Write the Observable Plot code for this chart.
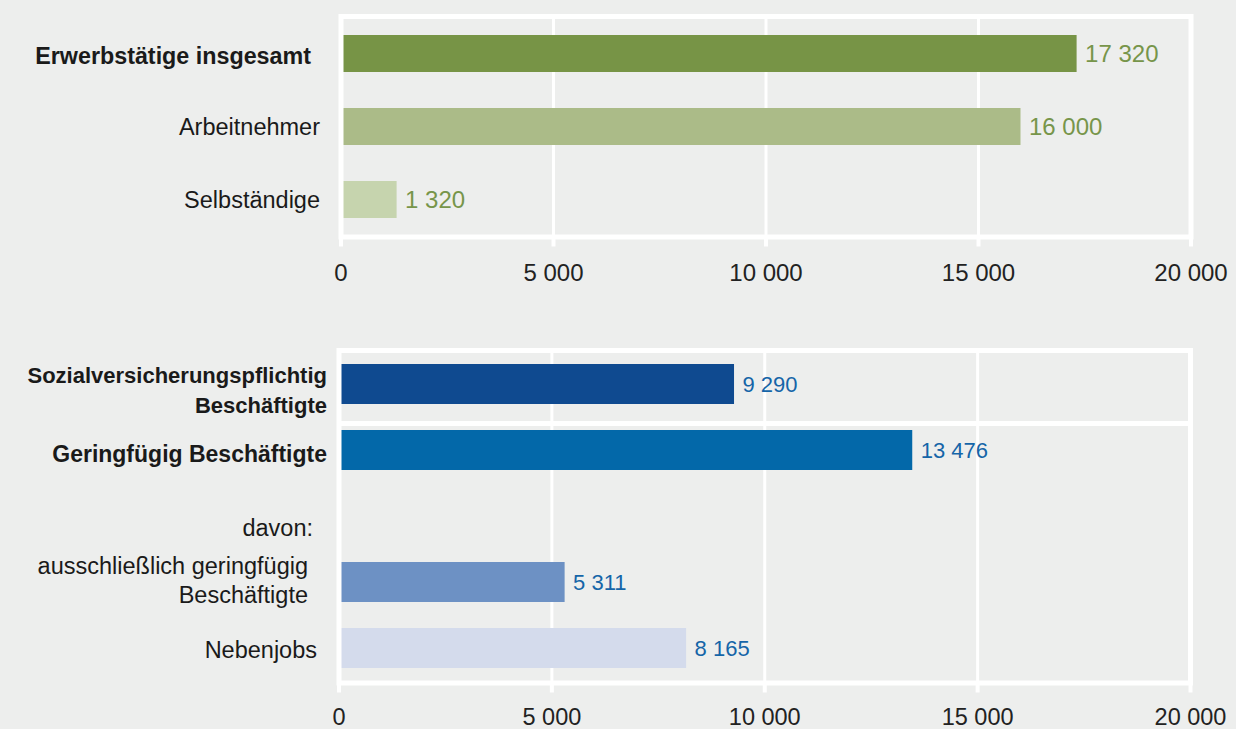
<!DOCTYPE html>
<html>
<head>
<meta charset="utf-8">
<script src="https://cdn.jsdelivr.net/npm/d3@7"></script>
<script src="https://cdn.jsdelivr.net/npm/@observablehq/plot@0.6"></script>
<style>
  html, body { margin: 0; padding: 0; background: #edeeed; }
  #chart { width: 1236px; height: 729px; overflow: hidden; }
  #chart svg { display: block; }
</style>
</head>
<body>
<div id="chart"></div>
<script>
// ---- data ----
const topCategories = ["Erwerbstätige insgesamt", "Arbeitnehmer", "Selbständige"];
const topValues = [17320, 16000, 1320];
const topColors = ["#779446", "#abbb88", "#c6d4ae"];

const bottomCategories = [
  "Sozialversicherungspflichtig\nBeschäftigte",
  "Geringfügig Beschäftigte",
  "davon:",
  "ausschließlich geringfügig\nBeschäftigte",
  "Nebenjobs"
];
const bottomValues = [9290, 13476, null, 5311, 8165];
const bottomColors = ["#0f4a90", "#0368a9", null, "#6d91c4", "#d4dbec"];

const xTicks = [0, 5000, 10000, 15000, 20000];

// ---- helpers ----
const fmt = d3.formatLocale({decimal: ",", thousands: " ", grouping: [3], currency: ["", "€"]}).format(",d");
const FONT = "'Liberation Sans', Arial, Helvetica, sans-serif";
const TEXT = "#1a1a1a";

function rows(cats, vals, cols) {
  return cats.map((c, i) => ({cat: c, value: vals[i], color: cols[i]})).filter(d => d.value != null);
}

function label(cats, i, {dx, dy = 0, bold = false, lineHeight = 1.3, size = 23.5}) {
  return Plot.text([cats[i]], {
    x: 0, y: d => d, text: d => d,
    textAnchor: "end", dx, dy, lineHeight,
    fontWeight: bold ? "bold" : "normal",
    fill: TEXT, fontSize: size
  });
}

function grid() {
  return Plot.ruleX(xTicks.slice(1, -1), {stroke: "white", strokeWidth: 3});
}

function axis(pad, size) {
  return Plot.axisX(xTicks, {
    tickSize: 10, tickPadding: pad, stroke: "white", strokeWidth: 4,
    fill: "#222", fontSize: size, tickFormat: fmt, label: null
  });
}

// ---- top chart ----
const topData = rows(topCategories, topValues, topColors);
const topChart = Plot.plot({
  width: 1236, height: 300,
  marginLeft: 340.5, marginRight: 45.5, marginTop: 16, marginBottom: 63.5,
  style: {fontFamily: FONT, fontSize: "23px", background: "transparent", color: TEXT, overflow: "visible"},
  x: {domain: [0, 20000], axis: null},
  y: {type: "band", domain: topCategories, paddingInner: 0.49, paddingOuter: 0.235, axis: null},
  color: {type: "identity"},
  marks: [
    grid(),
    Plot.barX(topData, {x: "value", y: "cat", fill: "color"}),
    Plot.frame({stroke: "white", strokeWidth: 5}),
    axis(17, 24),
    Plot.text(topData, {x: "value", y: "cat", text: d => fmt(d.value), textAnchor: "start", dx: 8, fill: "#77954a", fontSize: 24}),
    label(topCategories, 0, {dx: -30, dy: 0.5, bold: true, size: 23.3}),
    label(topCategories, 1, {dx: -21, dy: -1.5}),
    label(topCategories, 2, {dx: -21, dy: -2})
  ]
});

// ---- bottom chart ----
const bottomData = rows(bottomCategories, bottomValues, bottomColors);
const bottomChart = Plot.plot({
  width: 1236, height: 429,
  marginLeft: 338.5, marginRight: 46, marginTop: 50, marginBottom: 46.5,
  style: {fontFamily: FONT, fontSize: "23px", background: "transparent", color: TEXT, overflow: "visible"},
  x: {domain: [0, 20000], axis: null},
  y: {type: "band", domain: bottomCategories, paddingInner: 0.4, paddingOuter: 0.2, axis: null},
  color: {type: "identity"},
  marks: [
    grid(),
    Plot.ruleY([bottomCategories[1]], {dy: -27, stroke: "white", strokeWidth: 5}),
    Plot.barX(bottomData, {x: "value", y: "cat", fill: "color"}),
    Plot.frame({stroke: "white", strokeWidth: 5}),
    axis(15, 23.5),
    Plot.text(bottomData, {x: "value", y: "cat", text: d => fmt(d.value), textAnchor: "start", dx: 8, fill: "#1565a8", fontSize: 22}),
    label(bottomCategories, 0, {dx: -12, dy: 4, bold: true, lineHeight: 1.38, size: 22}),
    label(bottomCategories, 1, {dx: -12, dy: 1.5, bold: true, size: 23}),
    label(bottomCategories, 2, {dx: -26, dy: 10}),
    label(bottomCategories, 3, {dx: -31, dy: -3.5, lineHeight: 1.25}),
    label(bottomCategories, 4, {dx: -22, dy: 0})
  ]
});

const el = document.getElementById("chart");
el.appendChild(topChart);
el.appendChild(bottomChart);
</script>
</body>
</html>
